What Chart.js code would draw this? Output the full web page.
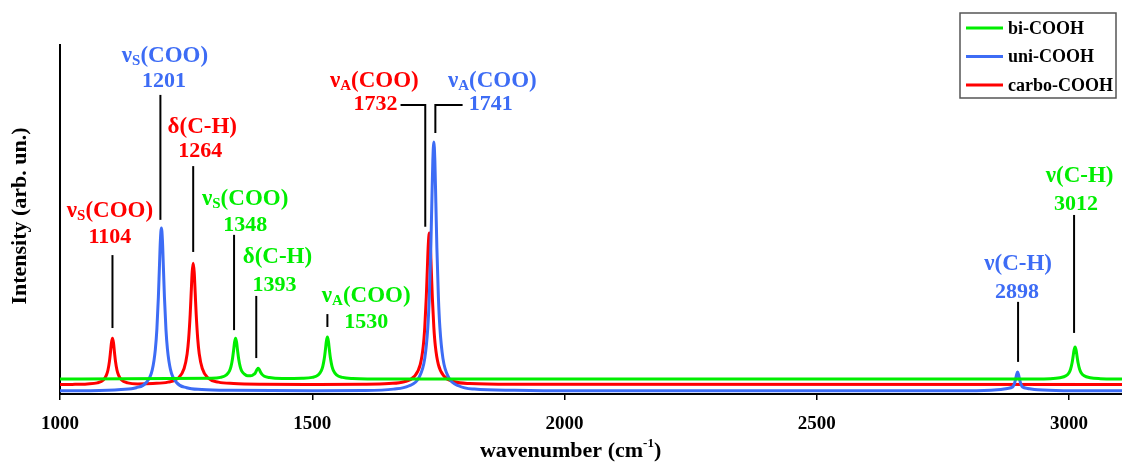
<!DOCTYPE html>
<html>
<head>
<meta charset="utf-8">
<script src="https://cdn.jsdelivr.net/npm/chart.js@4.4.1/dist/chart.umd.min.js"></script>
<style>
  html, body { margin: 0; padding: 0; background: #fff; }
  #wrap { width: 1122px; height: 462px; position: relative; }
</style>
</head>
<body>
<div id="wrap"><canvas id="chart"></canvas></div>
<script>
// spectra (wavenumber in cm-1, intensity in arb. units)
const biWn = [1000, 1300, 1318, 1330, 1336, 1339, 1342, 1344, 1346, 1348, 1350, 1352, 1354, 1357, 1360, 1366, 1372, 1378, 1381, 1384, 1387, 1389, 1391, 1393, 1395, 1397, 1400, 1405, 1415, 1440, 1480, 1500, 1512, 1518, 1521, 1524, 1526, 1528, 1530, 1532, 1534, 1536, 1539, 1542, 1548, 1560, 1580, 1650, 2900, 2962, 2982, 2994, 3000, 3003, 3006, 3008, 3010, 3012, 3014, 3016, 3018, 3021, 3024, 3030, 3042, 3062, 3105];
const biInt = [4.3, 4.5, 4.75, 5.5, 6.6, 7.9, 10.2, 12.4, 14.8, 16.0, 14.8, 12.4, 10.2, 7.9, 6.6, 5.65, 5.2, 5.2, 5.3, 5.6, 6.0, 6.6, 7.1, 7.4, 7.0, 6.4, 5.7, 5.1, 4.7, 4.45, 4.5, 4.75, 5.5, 6.7, 8.0, 10.3, 12.6, 15.1, 16.3, 15.1, 12.6, 10.3, 8.0, 6.7, 5.5, 4.75, 4.45, 4.3, 4.3, 4.4, 4.65, 5.2, 6.1, 7.1, 8.9, 10.7, 12.6, 13.5, 12.6, 10.7, 8.9, 7.1, 6.1, 5.2, 4.65, 4.4, 4.3];

const uniWn = [1000, 1060, 1121, 1151, 1171, 1183, 1189, 1192, 1195, 1197, 1199, 1201, 1203, 1205, 1207, 1210, 1213, 1219, 1231, 1251, 1281, 1340, 1500, 1600, 1661, 1691, 1711, 1723, 1729, 1732, 1735, 1737, 1739, 1741, 1743, 1745, 1747, 1750, 1753, 1759, 1771, 1791, 1821, 1900, 2000, 2800, 2858, 2878, 2888, 2892, 2894, 2896, 2898, 2900, 2902, 2904, 2908, 2918, 2938, 3000, 3105];
const uniInt = [0.9, 0.95, 1.3, 1.8, 3.3, 7.0, 12.8, 18.5, 27.8, 36.1, 44.1, 47.6, 44.1, 36.1, 27.8, 18.5, 12.8, 7.0, 3.3, 1.8, 1.3, 1.05, 0.95, 1.0, 1.4, 2.3, 4.6, 10.2, 19.0, 27.8, 42.0, 54.7, 66.9, 72.2, 66.9, 54.7, 42.0, 27.8, 19.0, 10.2, 4.6, 2.3, 1.4, 1.05, 0.9, 0.9, 1.2, 1.6, 2.0, 3.1, 4.2, 5.5, 6.3, 5.5, 4.2, 3.1, 2.0, 1.6, 1.2, 0.95, 0.9];

const carboWn = [1000, 1024, 1054, 1074, 1086, 1092, 1095, 1098, 1100, 1102, 1104, 1106, 1108, 1110, 1113, 1116, 1122, 1134, 1154, 1184, 1214, 1234, 1246, 1252, 1255, 1258, 1260, 1262, 1264, 1266, 1268, 1270, 1273, 1276, 1282, 1294, 1314, 1344, 1400, 1500, 1600, 1652, 1682, 1702, 1714, 1720, 1723, 1726, 1728, 1730, 1732, 1734, 1736, 1738, 1741, 1744, 1750, 1762, 1782, 1812, 1900, 3105];
const carboInt = [2.7, 2.75, 2.9, 3.2, 4.0, 5.4, 6.8, 9.35, 11.9, 14.7, 16.0, 14.7, 11.9, 9.35, 6.8, 5.4, 4.0, 3.2, 2.9, 3.0, 3.4, 4.5, 7.3, 11.5, 15.8, 22.7, 28.9, 34.9, 37.5, 34.9, 28.9, 22.7, 15.8, 11.5, 7.3, 4.5, 3.4, 3.0, 2.8, 2.75, 2.8, 3.0, 3.5, 5.0, 8.4, 13.7, 19.1, 27.7, 35.4, 42.8, 46.1, 42.8, 35.4, 27.7, 19.1, 13.7, 8.4, 5.0, 3.5, 3.0, 2.8, 2.7];

const seriesNames = ['bi-COOH', 'uni-COOH', 'carbo-COOH'];
const xTicks = [1000, 1500, 2000, 2500, 3000];

// peak assignments: series index, mode symbol + subscript + group, label value
const notes = [
  { s: 2, sym: 'ν', sub: 'S', grp: '(COO)', val: 1104, lineWn: 1104, bot: 18.9, top: 39.8, nameWn: 1099, nameY: 50.7, numWn: 1099, numY: 43.3 },
  { s: 1, sym: 'ν', sub: 'S', grp: '(COO)', val: 1201, lineWn: 1199, bot: 49.9, top: 85.7, nameWn: 1208, nameY: 95.1, numWn: 1206, numY: 88.0 },
  { s: 2, sym: 'δ', sub: '', grp: '(C-H)', val: 1264, lineWn: 1264, bot: 40.7, top: 65.3, nameWn: 1282, nameY: 74.8, numWn: 1278, numY: 67.9 },
  { s: 0, sym: 'ν', sub: 'S', grp: '(COO)', val: 1348, lineWn: 1345, bot: 18.3, top: 45.6, nameWn: 1367, nameY: 54.2, numWn: 1367, numY: 46.7 },
  { s: 0, sym: 'δ', sub: '', grp: '(C-H)', val: 1393, lineWn: 1389, bot: 10.3, top: 28.1, nameWn: 1431, nameY: 37.5, numWn: 1425, numY: 29.5 },
  { s: 0, sym: 'ν', sub: 'A', grp: '(COO)', val: 1530, lineWn: 1530, bot: 19.2, top: 22.9, nameWn: 1607, nameY: 26.4, numWn: 1607, numY: 18.9 },
  { s: 2, sym: 'ν', sub: 'A', grp: '(COO)', val: 1732, lineWn: 1724, bot: 47.9, top: 82.8, elbow: 1675, nameWn: 1623, nameY: 88.0, numWn: 1669, numY: 81.4, align: 'right' },
  { s: 1, sym: 'ν', sub: 'A', grp: '(COO)', val: 1741, lineWn: 1744, bot: 74.8, top: 82.8, elbow: 1798, nameWn: 1857, nameY: 88.0, numWn: 1810, numY: 81.4, align: 'left' },
  { s: 1, sym: 'ν', sub: '', grp: '(C-H)', val: 2898, lineWn: 2899, bot: 9.2, top: 26.4, nameWn: 2899, nameY: 35.5, numWn: 2897, numY: 27.5 },
  { s: 0, sym: 'ν', sub: '', grp: '(C-H)', val: 3012, lineWn: 3010, bot: 17.5, top: 51.3, nameWn: 3021, nameY: 60.7, numWn: 3014, numY: 52.7 }
];

const colors = ['rgb(0,238,0)', 'rgb(61,108,245)', 'rgb(255,0,0)'];
const serif = '"Liberation Serif", "Times New Roman", serif';

const toPts = (xs, ys) => xs.map((v, i) => ({ x: v, y: ys[i] }));

const notesPlugin = {
  id: 'notes',
  afterDraw(chart) {
    const { ctx, scales: { x, y } } = chart;
    ctx.save();

    // peak labels
    notes.forEach(n => {
      const col = colors[n.s];
      const lx = x.getPixelForValue(n.lineWn);
      const yb = y.getPixelForValue(n.bot), yt = y.getPixelForValue(n.top);
      ctx.strokeStyle = '#000';
      ctx.lineWidth = 2;
      ctx.beginPath();
      ctx.moveTo(lx, yb);
      ctx.lineTo(lx, yt);
      if (n.elbow) ctx.lineTo(x.getPixelForValue(n.elbow), yt);
      ctx.stroke();

      ctx.fillStyle = col;
      ctx.textBaseline = 'alphabetic';
      const big = 'bold 23px ' + serif, small = 'bold 15px ' + serif;
      ctx.font = big;
      const w1 = ctx.measureText(n.sym).width, w3 = ctx.measureText(n.grp).width;
      ctx.font = small;
      const w2 = n.sub ? ctx.measureText(n.sub).width : 0;
      const tx = x.getPixelForValue(n.nameWn) - (w1 + w2 + w3) / 2;
      const ty = y.getPixelForValue(n.nameY);
      ctx.textAlign = 'left';
      ctx.font = big;
      ctx.fillText(n.sym, tx, ty);
      if (n.sub) { ctx.font = small; ctx.fillText(n.sub, tx + w1, ty + 3); }
      ctx.font = big;
      ctx.fillText(n.grp, tx + w1 + w2, ty);

      ctx.font = 'bold 22px ' + serif;
      ctx.textAlign = n.align || 'center';
      ctx.fillText(String(n.val), x.getPixelForValue(n.numWn), y.getPixelForValue(n.numY));
    });

    // axis titles
    ctx.fillStyle = '#000';
    ctx.font = 'bold 22px ' + serif;
    const a = 'wavenumber (cm', b = '-1', c = ')';
    const wa = ctx.measureText(a).width, wc = ctx.measureText(c).width;
    ctx.font = 'bold 13px ' + serif;
    const wb = ctx.measureText(b).width;
    const cx = x.getPixelForValue(2012);
    const sx = cx - (wa + wb + wc) / 2;
    const by = chart.height - 5;
    ctx.textAlign = 'left';
    ctx.textBaseline = 'alphabetic';
    ctx.font = 'bold 22px ' + serif;
    ctx.fillText(a, sx, by);
    ctx.font = 'bold 13px ' + serif;
    ctx.fillText(b, sx + wa, by - 10);
    ctx.font = 'bold 22px ' + serif;
    ctx.fillText(c, sx + wa + wb, by);

    ctx.save();
    ctx.translate(20, 216);
    ctx.rotate(-Math.PI / 2);
    ctx.textAlign = 'center';
    ctx.textBaseline = 'middle';
    ctx.font = 'bold 22px ' + serif;
    ctx.fillText('Intensity (arb. un.)', 0, 0);
    ctx.restore();

    // legend box
    const lx0 = 960, ly0 = 13, lw = 156, lh = 85;
    ctx.fillStyle = '#fff';
    ctx.fillRect(lx0, ly0, lw, lh);
    ctx.strokeStyle = '#555';
    ctx.lineWidth = 1.5;
    ctx.strokeRect(lx0, ly0, lw, lh);
    chart.data.datasets.forEach((ds, i) => {
      const ry = ly0 + 15 + i * 28.5;
      ctx.strokeStyle = ds.borderColor;
      ctx.lineWidth = 3;
      ctx.beginPath();
      ctx.moveTo(lx0 + 6, ry);
      ctx.lineTo(lx0 + 43, ry);
      ctx.stroke();
      ctx.fillStyle = '#000';
      ctx.font = 'bold 18px ' + serif;
      ctx.textAlign = 'left';
      ctx.textBaseline = 'middle';
      ctx.fillText(ds.label, lx0 + 48, ry + 1);
    });
    ctx.restore();
  }
};

new Chart(document.getElementById('chart'), {
  type: 'line',
  data: {
    datasets: [
      { label: seriesNames[0], data: toPts(biWn, biInt), borderColor: colors[0] },
      { label: seriesNames[1], data: toPts(uniWn, uniInt), borderColor: colors[1] },
      { label: seriesNames[2], data: toPts(carboWn, carboInt), borderColor: colors[2] }
    ]
  },
  options: {
    responsive: true,
    maintainAspectRatio: false,
    animation: false,
    layout: { padding: { top: 45, right: 0, left: 0, bottom: 0 } },
    elements: {
      point: { radius: 0 },
      line: { borderWidth: 3, cubicInterpolationMode: 'monotone' }
    },
    plugins: { legend: { display: false }, tooltip: { enabled: false } },
    scales: {
      x: {
        type: 'linear',
        min: 1000,
        max: 3105,
        afterBuildTicks: s => { s.ticks = xTicks.map(v => ({ value: v })); },
        afterFit: s => { s.height = 68; },
        border: { display: true, color: '#000', width: 2 },
        grid: { drawOnChartArea: false, drawTicks: true, tickLength: 6, color: '#000', lineWidth: 1.5 },
        ticks: {
          color: '#000', padding: 13, maxRotation: 0,
          font: { family: serif, size: 19, weight: 'bold' },
          callback: v => String(v)
        }
      },
      y: {
        min: 0,
        max: 100,
        afterFit: s => { s.width = 60; },
        border: { display: true, color: '#000', width: 2 },
        grid: { drawOnChartArea: false, drawTicks: false },
        ticks: { display: false }
      }
    }
  },
  plugins: [notesPlugin]
});
</script>
</body>
</html>
